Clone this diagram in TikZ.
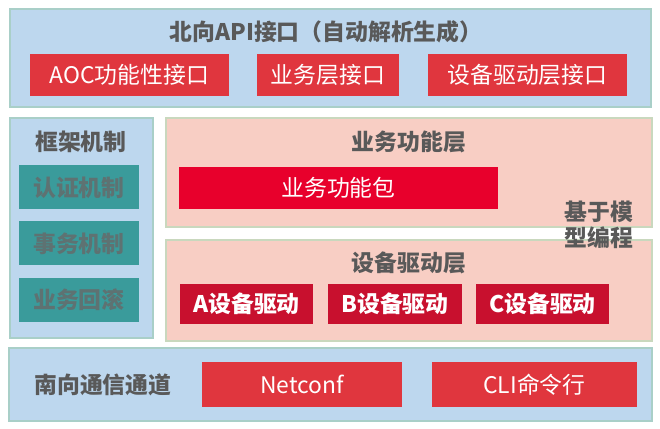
\documentclass[tikz,border=0pt]{standalone}
\usepackage{fontspec}
\setmainfont{Noto Sans CJK SC}
\usepackage{tikz}

\definecolor{layerblue}{HTML}{BDD7EE}
\definecolor{layerpink}{HTML}{F8CEC4}
\definecolor{edgeblue}{HTML}{A9CFC8}
\definecolor{edgepink}{HTML}{C9D8BE}
\definecolor{boxred}{HTML}{E0363E}
\definecolor{pkgred}{HTML}{E8002C}
\definecolor{drvred}{HTML}{C8102E}
\definecolor{boxteal}{HTML}{3A9B9B}
\definecolor{tealtext}{HTML}{5E7272}
\definecolor{headgray}{HTML}{595959}

\begin{document}
\begin{tikzpicture}[x=0.03cm, y=-0.03cm,
  bluelayer/.style={draw=edgeblue, fill=layerblue, line width=1.5pt, inner sep=0pt},
  pinklayer/.style={draw=edgepink, fill=layerpink, line width=1.5pt, inner sep=0pt},
  headtext/.style={text=headgray, font=\fontsize{19.5pt}{22pt}\selectfont\bfseries},
  redbox/.style={fill=boxred, text=white, inner sep=0pt, minimum height=1.26cm, font=\fontsize{19.5pt}{22pt}\selectfont},
  drvbox/.style={redbox, fill=drvred, minimum width=3.99cm, minimum height=1.2cm, font=\fontsize{19.5pt}{22pt}\selectfont\bfseries},
  tealbox/.style={fill=boxteal, text=tealtext, inner sep=0pt, minimum width=3.6cm, minimum height=1.32cm, font=\fontsize{19.5pt}{22pt}\selectfont\bfseries}]
\useasboundingbox (0,0) rectangle (660,429);

\node[bluelayer, minimum width=19.23cm, minimum height=2.94cm] (north) at (330.5,58) {};
\node[headtext] (northtitle) at (326,32) {北向API接口（自动解析生成）};
\node[redbox, minimum width=5.97cm] (aoc) at (129.5,75) {AOC功能性接口};
\node[redbox, minimum width=4.26cm] (svcif) at (328,75) {业务层接口};
\node[redbox, minimum width=5.97cm] (devif) at (527.5,75) {设备驱动层接口};

\node[bluelayer, minimum width=4.29cm, minimum height=6.6cm] (frame) at (81.5,228) {};
\node[headtext] (frametitle) at (81,142) {框架机制};
\node[tealbox] (auth) at (79,187.5) {认证机制};
\node[tealbox] (trans) at (79,243.5) {事务机制};
\node[tealbox] (rollback) at (79,300) {业务回滚};

\node[pinklayer, minimum width=14.58cm, minimum height=3.27cm] (svc) at (409,172.5) {};
\node[headtext] (svctitle) at (409,142) {业务功能层};
\node[redbox, fill=pkgred, minimum width=9.57cm] (pkg) at (338.5,188) {业务功能包};

\node[pinklayer, minimum width=14.58cm, minimum height=3.03cm] (drv) at (409,290.5) {};
\node[headtext] (drvtitle) at (409,263) {设备驱动层};
\node[drvbox] (drva) at (246.5,304) {A设备驱动};
\node[drvbox] (drvb) at (395,304) {B设备驱动};
\node[drvbox] (drvc) at (542.5,304) {C设备驱动};

\node[headtext, align=center, inner sep=0pt] (model) at (599,225) {基于模\\型编程};

\node[bluelayer, minimum width=19.29cm, minimum height=2.19cm] (south) at (330.5,384.5) {};
\node[headtext] (southtitle) at (103,385) {南向通信通道};
\node[redbox, minimum width=6cm, minimum height=1.35cm] (netconf) at (302,384.5) {Netconf};
\node[redbox, minimum width=6.15cm, minimum height=1.35cm] (cli) at (534.5,384.5) {CLI命令行};
\end{tikzpicture}
\end{document}
